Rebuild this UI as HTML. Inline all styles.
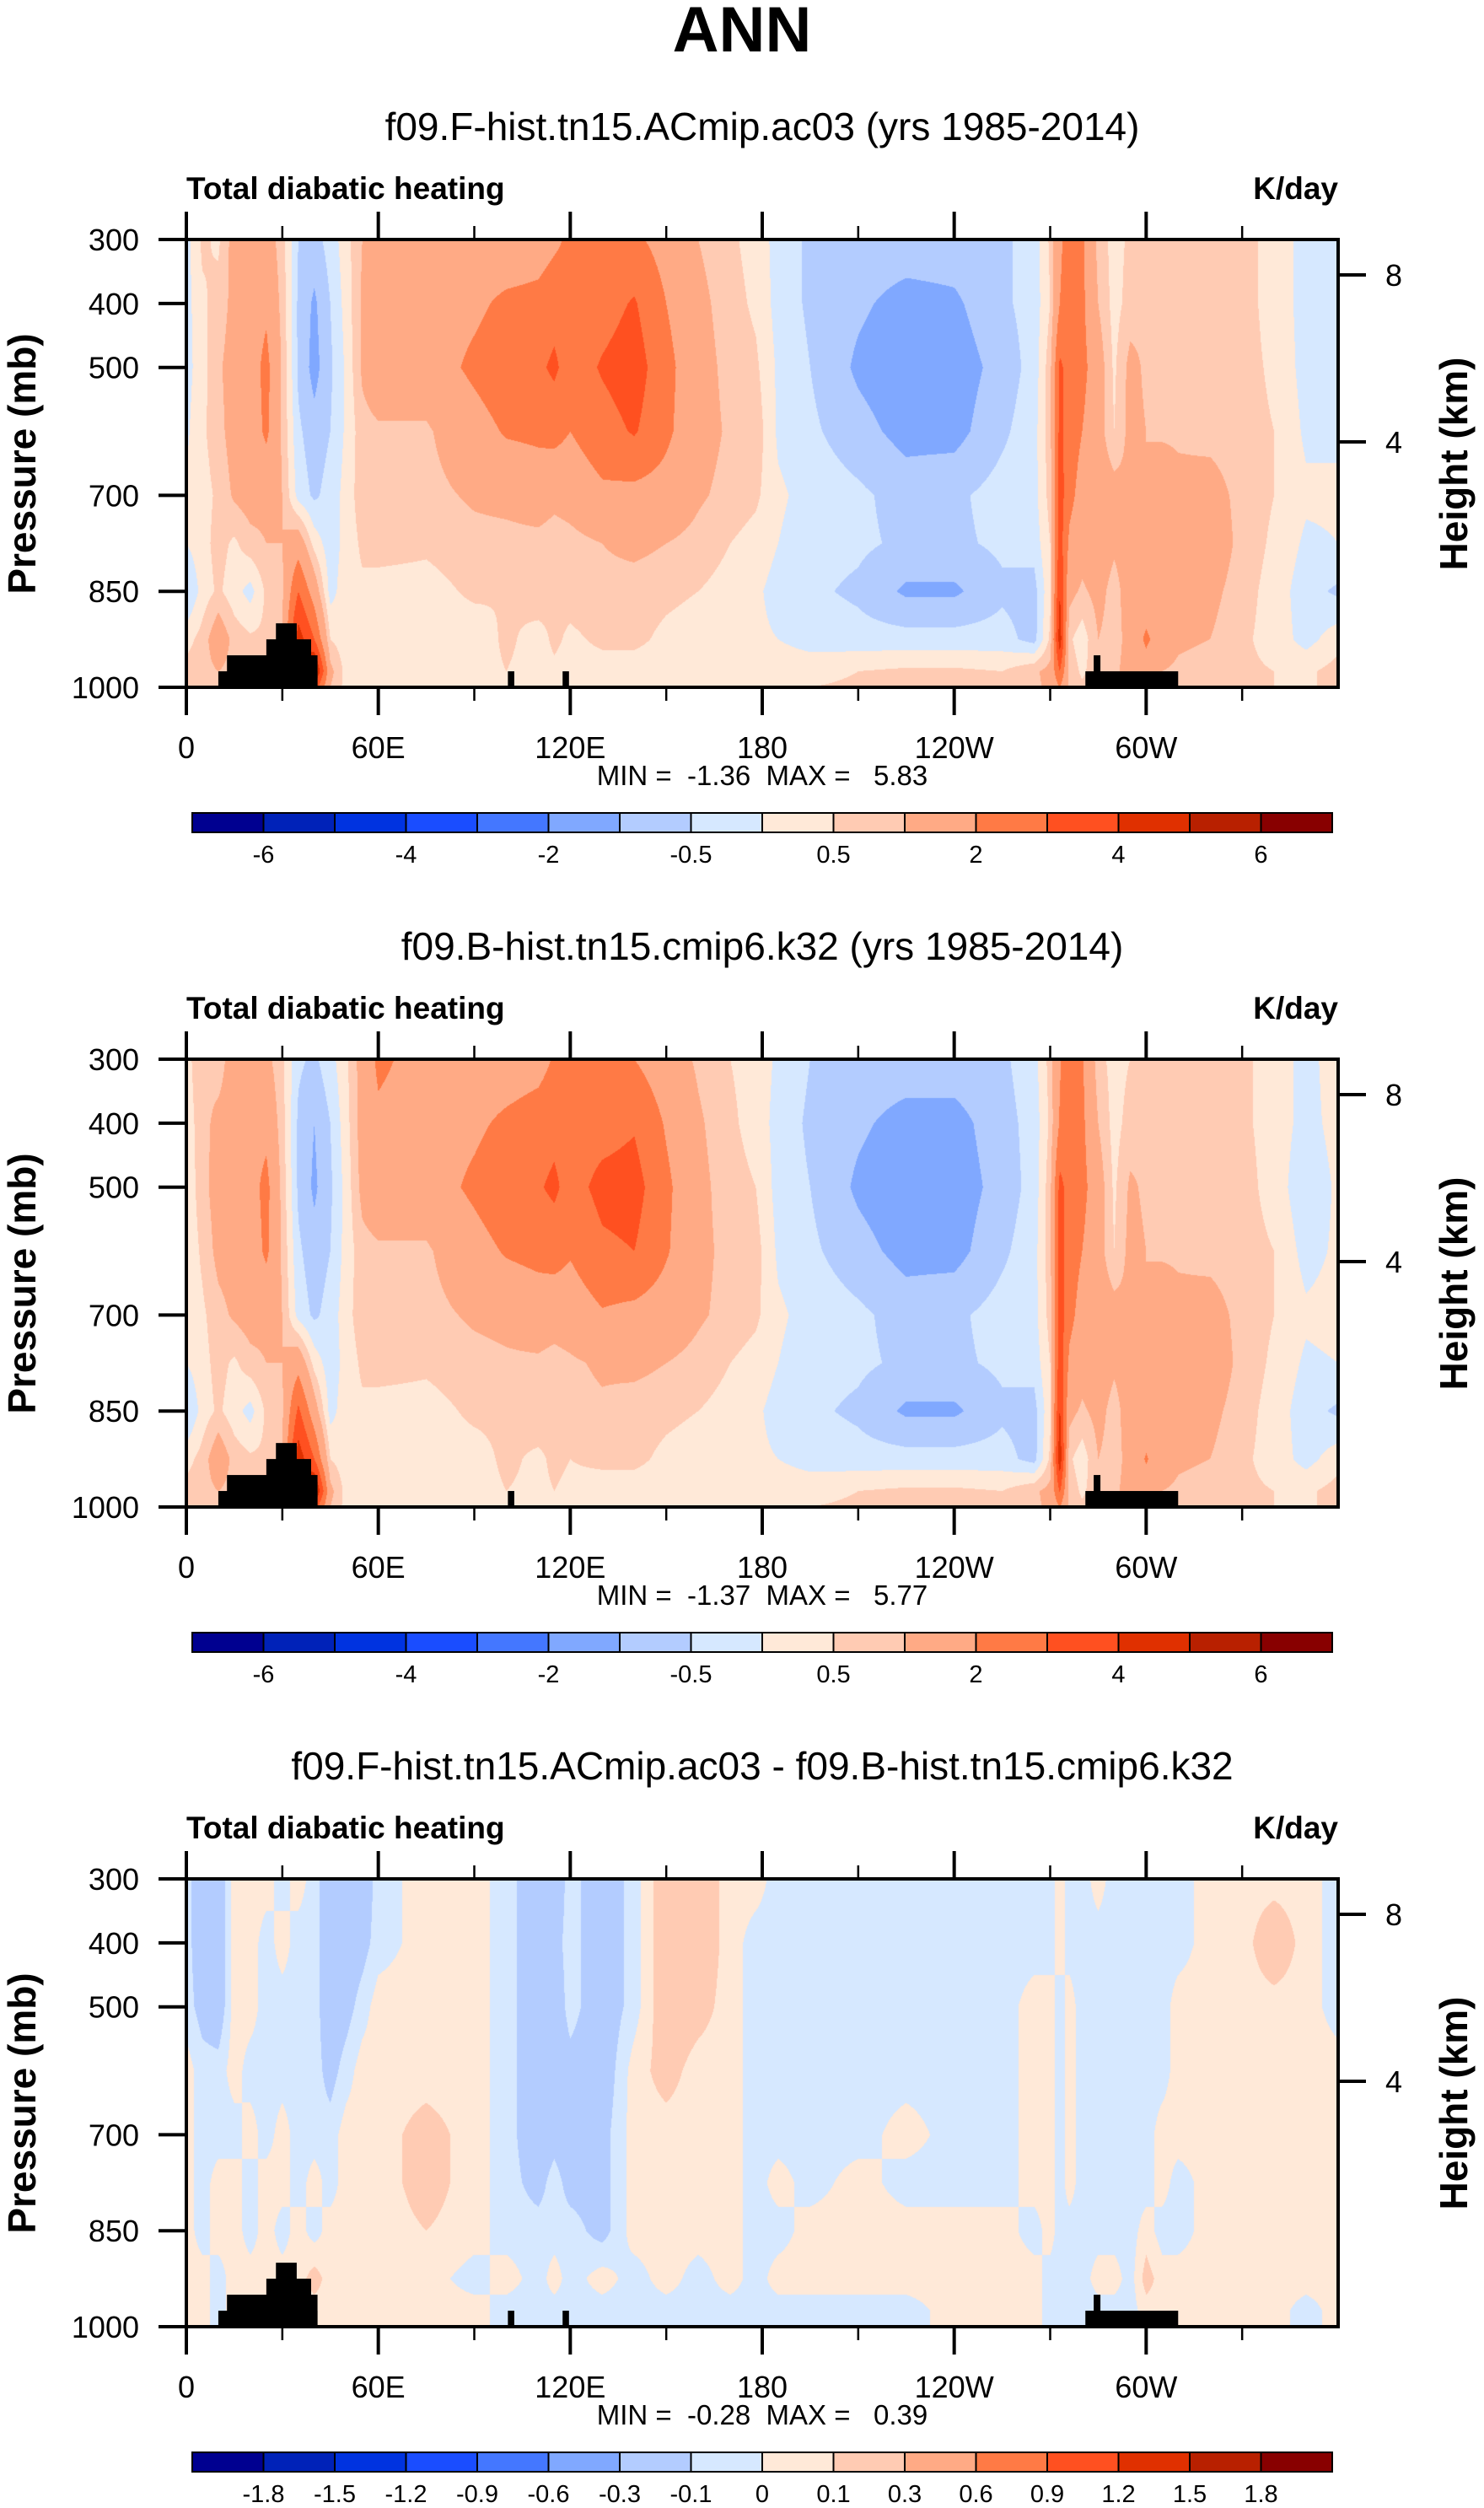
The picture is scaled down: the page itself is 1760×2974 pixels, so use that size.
<!DOCTYPE html>
<html><head><meta charset="utf-8"><title>ANN Total diabatic heating</title>
<style>
html,body{margin:0;padding:0;background:#fff;}
#page{position:relative;width:1760px;height:2974px;overflow:hidden;background:#fff;}
canvas{position:absolute;}
svg{position:absolute;left:0;top:0;}
text{font-family:"Liberation Sans",Arial,sans-serif;fill:#000;}
</style></head>
<body>
<div id="page">
<canvas id="c1" width="1366" height="531" style="left:221px;top:284px"></canvas>
<canvas id="c2" width="1366" height="531" style="left:221px;top:1256px"></canvas>
<canvas id="c3" width="1366" height="531" style="left:221px;top:2228px"></canvas>
<svg id="ov" width="1760" height="2974"></svg>
</div>
<script>
const LONS=[0,5,10,15,20,25,30,35,40,45,50,55,60,75,90,100,110,115,120,130,140,150,160,170,178,185,195,210,225,240,255,265,270,273,276,280,285,290,295,300,305,310,320,330,340,350,360];
const LEVS=[300,400,500,600,700,775,850,925,975,1000];
const heat1=[
[-0.2,0.6,0.4,1.3,1.5,1.4,0.7,-0.5,-0.7,-0.3,0.3,1.0,1.4,1.5,1.4,1.3,1.5,1.8,2.2,2.3,2.2,1.6,1.0,0.6,0.3,-0.2,-0.6,-0.7,-0.7,-0.7,-0.6,-0.3,0.6,1.8,2.5,2.2,0.8,0.3,0.6,0.8,0.9,0.8,0.7,0.7,0.3,-0.2,-0.2],
[-0.2,0.4,0.7,1.2,1.5,1.8,0.8,-0.6,-1.1,-0.5,0.2,1.1,1.5,1.5,1.8,2.2,2.3,2.6,2.4,2.6,3.1,2.0,1.2,0.7,0.4,-0.2,-0.6,-0.9,-1.2,-1.1,-0.6,-0.3,0.5,2.0,2.6,2.2,1.0,0.3,0.7,0.9,0.8,0.7,0.8,0.7,0.3,-0.2,-0.2],
[-0.2,0.3,0.9,1.3,1.5,2.3,0.9,-0.6,-1.2,-0.6,0.1,1.1,1.5,1.5,2.2,2.6,2.8,3.2,2.5,3.1,3.5,2.3,1.3,0.8,0.6,-0.1,-0.5,-1.1,-1.4,-1.3,-0.8,-0.3,0.8,3.2,2.6,2.3,1.4,0.4,1.2,0.9,0.9,0.8,0.8,0.7,0.4,-0.2,-0.2],
[-0.1,0.4,0.8,1.3,1.4,2.2,0.9,-0.4,-0.8,-0.5,0.1,0.8,0.9,0.9,1.6,2.1,2.2,2.3,2.0,2.6,3.1,2.2,1.3,0.9,0.8,-0.1,-0.4,-0.8,-1.2,-1.2,-0.6,-0.2,0.8,3.3,2.5,2.0,1.3,0.5,1.2,1.0,0.9,0.9,0.8,0.7,0.5,-0.1,-0.1],
[0.1,0.3,0.6,1.1,1.3,1.2,1.0,-0.2,-0.6,-0.3,0.2,0.8,0.8,0.8,1.1,1.2,1.4,1.2,1.3,1.8,1.7,1.6,1.1,0.8,0.6,0.1,-0.2,-0.4,-0.7,-0.6,-0.3,-0.2,0.7,3.5,2.3,1.6,1.5,1.3,1.1,1.0,1.5,1.2,1.3,0.8,0.5,0.1,0.1],
[0.0,0.3,0.7,0.4,0.8,1.0,1.0,1.5,0.3,-0.3,0.2,0.6,0.7,0.6,0.8,0.8,0.8,0.7,0.8,1.0,1.2,1.0,0.8,0.5,0.3,0.0,-0.3,-0.4,-0.6,-0.6,-0.4,-0.3,0.5,3.5,1.8,1.3,1.4,1.1,1.3,1.0,1.6,1.3,1.5,0.8,0.4,-0.1,0.0],
[-0.6,0.2,0.6,0.2,-0.2,0.6,0.9,3.0,1.5,-0.2,0.3,0.4,0.3,0.3,0.6,0.5,0.8,0.6,0.7,0.8,0.7,0.6,0.5,0.3,0.1,-0.2,-0.4,-0.6,-1.1,-1.1,-0.6,-0.7,0.4,4.0,1.2,0.9,1.2,0.8,1.3,1.3,1.2,1.0,1.2,0.7,0.3,-0.3,-0.6],
[0.3,0.7,1.5,0.8,0.6,0.6,1.0,4.5,3.0,0.5,0.2,0.2,0.2,0.3,0.2,0.6,0.3,0.6,0.4,0.6,0.6,0.4,0.3,0.2,0.1,0.0,-0.2,-0.3,-0.3,-0.3,-0.3,-0.7,0.6,4.6,0.6,0.2,1.0,0.8,1.2,2.2,1.4,1.1,1.0,0.6,0.3,-0.2,0.3],
[0.7,0.8,1.0,0.8,0.8,1.0,1.5,3.5,5.5,1.2,0.3,0.2,0.2,0.2,0.3,0.5,0.3,0.4,0.3,0.3,0.3,0.3,0.3,0.3,0.3,0.3,0.3,0.5,0.6,0.6,0.5,0.9,1.2,3.0,0.8,0.4,0.8,0.9,1.2,1.5,1.0,0.9,0.8,0.6,0.5,0.4,0.7],
[0.7,0.7,0.8,0.8,0.8,0.9,1.2,2.0,3.5,1.0,0.3,0.2,0.2,0.2,0.3,0.5,0.4,0.5,0.3,0.3,0.3,0.3,0.3,0.3,0.4,0.4,0.5,0.6,0.7,0.7,0.6,0.9,1.1,2.0,0.8,0.6,0.7,0.8,0.9,1.0,0.8,0.8,0.7,0.6,0.5,0.4,0.7]
];
const heat2=[
[0.3,0.9,0.7,1.4,1.5,1.2,0.6,-0.4,-0.6,-0.2,0.4,1.3,2.2,1.6,1.4,1.4,1.6,2.1,2.3,2.4,2.0,1.4,0.9,0.5,0.3,-0.1,-0.5,-0.7,-0.7,-0.7,-0.6,-0.2,0.7,1.9,2.6,2.1,0.7,0.3,0.5,0.8,0.9,0.8,0.7,0.6,0.3,-0.2,0.3],
[0.2,0.8,1.2,1.3,1.6,1.7,0.7,-0.6,-1.0,-0.5,0.3,1.3,1.8,1.5,1.8,2.2,2.5,2.7,2.5,2.6,2.9,1.9,1.1,0.6,0.3,-0.2,-0.6,-0.9,-1.2,-1.2,-0.7,-0.3,0.6,2.1,2.6,2.2,1.0,0.3,0.7,0.9,0.8,0.7,0.8,0.6,0.3,-0.2,0.2],
[0.1,0.8,1.3,1.4,1.6,2.3,0.8,-0.6,-1.1,-0.6,0.2,1.2,1.5,1.5,2.2,2.7,2.9,3.2,2.6,3.3,3.4,2.2,1.2,0.7,0.5,-0.2,-0.5,-1.1,-1.4,-1.3,-0.8,-0.3,0.8,3.3,2.6,2.3,1.4,0.4,1.1,0.9,0.9,0.8,0.8,0.7,0.3,-0.4,0.1],
[0.1,0.6,1.2,1.3,1.4,2.2,0.9,-0.4,-0.8,-0.5,0.2,0.8,0.9,0.9,1.6,2.1,2.3,2.4,2.1,2.8,3.0,2.1,1.2,0.8,0.7,-0.1,-0.4,-0.8,-1.2,-1.2,-0.6,-0.2,0.8,3.4,2.5,2.0,1.3,0.5,1.2,1.0,0.9,0.9,0.8,0.7,0.5,-0.2,0.1],
[0.2,0.4,0.8,1.1,1.3,1.2,1.0,-0.2,-0.6,-0.3,0.3,0.8,0.8,0.8,1.1,1.2,1.4,1.3,1.4,1.9,1.7,1.5,1.1,0.8,0.6,0.1,-0.2,-0.4,-0.7,-0.6,-0.3,-0.2,0.7,3.6,2.3,1.6,1.5,1.3,1.1,1.0,1.5,1.2,1.3,0.8,0.5,0.1,0.2],
[0.0,0.3,0.7,0.4,0.8,1.0,1.0,1.6,0.3,-0.3,0.2,0.6,0.7,0.6,0.8,0.9,0.9,0.8,0.9,1.1,1.2,1.0,0.8,0.5,0.3,0.0,-0.3,-0.4,-0.6,-0.6,-0.4,-0.3,0.5,3.6,1.8,1.3,1.4,1.1,1.3,1.0,1.6,1.3,1.5,0.8,0.4,-0.1,0.0],
[-0.6,0.2,0.6,0.2,-0.2,0.6,0.9,3.2,1.4,-0.2,0.3,0.4,0.3,0.3,0.6,0.6,0.8,0.7,0.8,0.9,0.7,0.6,0.5,0.3,0.1,-0.2,-0.4,-0.6,-1.1,-1.1,-0.6,-0.7,0.4,4.1,1.2,0.9,1.2,0.8,1.3,1.3,1.2,1.0,1.2,0.7,0.3,-0.3,-0.6],
[0.3,0.7,1.5,0.8,0.6,0.6,1.0,4.6,3.0,0.5,0.2,0.2,0.2,0.3,0.3,0.6,0.4,0.6,0.5,0.6,0.6,0.4,0.3,0.2,0.1,0.0,-0.2,-0.3,-0.3,-0.3,-0.3,-0.7,0.6,4.7,0.6,0.2,1.0,0.8,1.2,2.1,1.4,1.1,1.0,0.6,0.3,-0.2,0.3],
[0.7,0.8,1.0,0.8,0.8,1.0,1.5,3.6,5.4,1.2,0.3,0.2,0.2,0.2,0.3,0.5,0.4,0.5,0.4,0.3,0.3,0.3,0.3,0.3,0.3,0.3,0.3,0.5,0.6,0.6,0.5,0.9,1.2,3.1,0.8,0.4,0.8,0.9,1.2,1.5,1.0,0.9,0.8,0.6,0.5,0.4,0.7],
[0.7,0.7,0.8,0.8,0.8,0.9,1.2,2.0,3.5,1.0,0.3,0.2,0.2,0.2,0.3,0.5,0.5,0.5,0.4,0.3,0.3,0.3,0.3,0.3,0.4,0.4,0.5,0.6,0.7,0.7,0.6,0.9,1.1,2.0,0.8,0.6,0.7,0.8,0.9,1.0,0.8,0.8,0.7,0.6,0.5,0.4,0.7]
];
const diff3=[
[-0.05,-0.2,-0.2,0.05,0.05,0.05,-0.05,0.05,-0.05,-0.2,-0.2,-0.2,-0.05,0.05,0.05,-0.05,-0.2,-0.2,-0.05,-0.2,-0.05,0.2,0.2,0.05,0.05,-0.05,-0.05,-0.05,-0.05,-0.05,-0.05,-0.05,-0.05,0.05,-0.05,-0.05,0.05,-0.05,-0.05,-0.05,-0.05,-0.05,0.05,0.05,0.05,0.05,-0.05],
[-0.05,-0.2,-0.2,0.05,0.05,-0.05,0.05,-0.05,-0.05,-0.2,-0.2,-0.15,-0.05,0.05,0.05,-0.05,-0.2,-0.15,-0.05,-0.2,-0.05,0.2,0.2,0.05,-0.05,-0.05,-0.05,-0.05,-0.05,-0.05,-0.05,-0.05,-0.05,0.05,-0.05,-0.05,-0.05,-0.05,-0.05,-0.05,-0.05,-0.05,0.05,0.05,0.2,0.05,-0.05],
[-0.05,-0.15,-0.2,0.05,0.05,-0.05,-0.05,-0.05,-0.05,-0.2,-0.15,-0.05,0.05,0.05,0.05,-0.05,-0.2,-0.2,-0.05,-0.2,-0.05,0.2,0.15,0.05,-0.05,-0.05,-0.05,-0.05,-0.05,-0.05,-0.05,0.05,0.05,-0.05,0.05,-0.05,-0.05,-0.05,-0.05,-0.05,-0.05,0.05,0.05,0.05,0.05,0.05,-0.05],
[0.05,-0.05,-0.05,0.05,-0.05,-0.05,-0.05,-0.05,-0.05,-0.15,-0.05,0.05,0.05,0.05,0.05,-0.05,-0.2,-0.2,-0.15,-0.2,0.05,0.15,0.05,0.05,-0.05,-0.05,-0.05,-0.05,-0.05,-0.05,-0.05,0.05,0.05,-0.05,0.05,-0.05,-0.05,-0.05,-0.05,-0.05,-0.05,0.05,0.05,0.05,0.05,0.05,0.05],
[0.05,-0.05,-0.05,-0.05,0.05,-0.05,0.05,-0.05,-0.05,-0.05,0.05,0.05,0.05,0.15,0.05,-0.05,-0.2,-0.15,-0.2,-0.15,0.05,0.05,0.05,0.05,-0.05,-0.05,-0.05,-0.05,0.05,-0.05,-0.05,0.05,0.05,-0.05,0.05,-0.05,-0.05,-0.05,-0.05,-0.05,0.05,0.05,0.05,0.05,0.05,0.05,0.05],
[0.05,-0.05,0.05,0.05,-0.05,0.05,0.05,-0.05,0.05,-0.05,0.05,0.05,0.05,0.15,0.05,-0.05,-0.15,-0.05,-0.15,-0.15,0.05,0.05,0.05,0.05,-0.05,0.05,-0.05,0.05,-0.05,-0.05,-0.05,0.05,0.05,-0.05,0.05,-0.05,-0.05,-0.05,-0.05,-0.05,0.05,-0.05,0.05,0.05,0.05,0.05,0.05],
[0.05,-0.05,0.05,0.05,-0.05,0.05,-0.05,0.05,-0.05,0.05,0.05,0.05,0.05,0.1,0.05,-0.05,-0.05,-0.05,-0.05,-0.15,0.05,0.05,0.05,0.05,-0.05,-0.05,0.05,0.05,0.05,0.05,0.05,-0.05,0.05,-0.05,-0.05,-0.05,-0.05,-0.05,-0.05,0.05,-0.05,-0.05,0.05,0.05,0.05,0.05,0.05],
[0.05,0.05,-0.05,0.05,0.05,0.05,0.05,0.05,0.15,0.05,0.05,0.05,0.05,0.05,-0.05,0.05,-0.05,0.05,-0.05,0.05,-0.05,0.05,-0.05,0.05,-0.05,0.05,0.05,0.05,0.05,0.05,0.05,0.05,-0.05,-0.05,-0.05,-0.05,0.05,0.05,-0.05,0.15,0.05,0.05,0.05,0.05,0.05,0.05,0.05],
[0.05,0.05,-0.05,0.05,0.05,0.05,0.05,0.05,0.05,0.05,0.05,0.05,0.05,0.05,0.05,-0.05,-0.05,-0.05,-0.05,-0.05,-0.05,-0.05,-0.05,-0.05,-0.05,-0.05,-0.05,-0.05,-0.05,0.05,0.05,0.05,-0.05,-0.05,-0.05,-0.05,-0.05,-0.05,-0.05,0.05,0.05,0.05,0.05,0.05,0.05,-0.05,0.05],
[0.05,0.05,-0.05,0.05,0.05,0.05,0.05,0.05,0.05,0.05,0.05,0.05,0.05,0.05,0.05,-0.05,-0.05,-0.05,-0.05,-0.05,-0.05,-0.05,-0.05,-0.05,-0.05,-0.05,-0.05,-0.05,-0.05,0.05,0.05,0.05,-0.05,-0.05,-0.05,-0.05,-0.05,-0.05,-0.05,0.05,0.05,0.05,0.05,0.05,0.05,-0.05,0.05]
];
const contourLevelsFull=[-6,-5,-4,-3,-2,-1,-0.5,0,0.5,1,2,3,4,5,6];
const contourLevelsDiff=[-1.8,-1.5,-1.2,-0.9,-0.6,-0.3,-0.1,0,0.1,0.3,0.6,0.9,1.2,1.5,1.8];
const cbLabelsFull=["-6","-4","-2","-0.5","0.5","2","4","6"];
const cbLabelsDiff=["-1.8","-1.5","-1.2","-0.9","-0.6","-0.3","-0.1","0","0.1","0.3","0.6","0.9","1.2","1.5","1.8"];
const COLORS=["#000090","#0022b8","#0033e0","#1a4dff","#4477ff","#80a8ff","#b3ccff","#d6e8ff","#ffe9d8","#ffcbb3","#ffaa85","#ff7a45","#ff5020","#e03000","#b82000","#880000"];
// land blocks: [lonStart, lonEnd, topPressure]
const land1=[[10,41,975],[12.7,41,950],[25,39,925],[28,34.5,900],[100.5,102.5,975],[117.6,119.6,975],[281,310,975],[283.6,285.7,950]];
const land2=[[10,41,975],[12.7,41,950],[25,39,925],[28,34.5,900],[100.5,102.5,975],[281,310,975],[283.6,285.7,950]];
const land3=land1;
const xTickLabels=["0","60E","120E","180","120W","60W"];
const xTickLons=[0,60,120,180,240,300];
const yTickLabels=["300","400","500","700","850","1000"];
const yTickP=[300,400,500,700,850,1000];
const hTickLabels=["8","4"];
const hTickOffsets=[42,240];

const PL=221,PW=1366,PH=531,PTOP=[284,1256,2228];
function xOf(lon){return PL+lon/360*PW;}
function yOf(p,k){return PTOP[k]+(p-300)/700*PH;}

function rgb(h){return [parseInt(h.slice(1,3),16),parseInt(h.slice(3,5),16),parseInt(h.slice(5,7),16)];}
const RGB=COLORS.map(rgb);
function fill(id,grid,levels){
  const c=document.getElementById(id),ctx=c.getContext('2d');
  const img=ctx.createImageData(PW,PH),d=img.data;
  const ci=[],cf=[];
  for(let i=0;i<PW;i++){const lon=(i+0.5)/PW*360;let k=0;while(k<LONS.length-2&&LONS[k+1]<lon)k++;ci.push(k);cf.push((lon-LONS[k])/(LONS[k+1]-LONS[k]));}
  for(let j=0;j<PH;j++){
    const p=300+(j+0.5)/PH*700;let m=0;while(m<LEVS.length-2&&LEVS[m+1]<p)m++;
    const t=(p-LEVS[m])/(LEVS[m+1]-LEVS[m]);const r0=grid[m],r1=grid[m+1];
    for(let i=0;i<PW;i++){
      const k=ci[i],f=cf[i];
      const v=(r0[k]*(1-f)+r0[k+1]*f)*(1-t)+(r1[k]*(1-f)+r1[k+1]*f)*t;
      let n=0;while(n<levels.length&&v>=levels[n])n++;
      const col=RGB[n],o=(j*PW+i)*4;d[o]=col[0];d[o+1]=col[1];d[o+2]=col[2];d[o+3]=255;
    }
  }
  ctx.putImageData(img,0,0);
}
fill('c1',heat1,contourLevelsFull);
fill('c2',heat2,contourLevelsFull);
fill('c3',diff3,contourLevelsDiff);

const NS="http://www.w3.org/2000/svg",ov=document.getElementById('ov');
function el(tag,attrs,txt){const e=document.createElementNS(NS,tag);for(const a in attrs)e.setAttribute(a,attrs[a]);if(txt!==undefined)e.textContent=txt;ov.appendChild(e);return e;}

let t=el('text',{x:880,y:61,'font-size':76,'font-weight':'bold','text-anchor':'middle'},'ANN');



const subs=["f09.F-hist.tn15.ACmip.ac03 (yrs 1985-2014)","f09.B-hist.tn15.cmip6.k32 (yrs 1985-2014)","f09.F-hist.tn15.ACmip.ac03 - f09.B-hist.tn15.cmip6.k32"];
const minmax=["MIN =  -1.36  MAX =   5.83","MIN =  -1.37  MAX =   5.77","MIN =  -0.28  MAX =   0.39"];
const lands=[land1,land2,land3];

for(let k=0;k<3;k++){
  const off=PTOP[k]-284,top=PTOP[k],bot=top+PH;
  t=el('text',{x:904,y:166+off,'font-size':46,'text-anchor':'middle'},subs[k]);
  
  
  t=el('text',{x:221,y:236+off,'font-size':37,'font-weight':'bold'},'Total diabatic heating');
  
  
  t=el('text',{x:1587,y:236+off,'font-size':37,'font-weight':'bold','text-anchor':'end'},'K/day');
  
  
  // land
  lands[k].forEach(b=>{
    const r=el('rect',{x:xOf(b[0]),y:yOf(b[2],k),width:xOf(b[1])-xOf(b[0]),height:yOf(1000,k)-yOf(b[2],k),fill:'#000'});
    
    
  });
  // frame
  const fr=el('rect',{x:PL,y:top,width:PW,height:PH,fill:'none',stroke:'#000','stroke-width':4});
  
  
  // x ticks
  for(let lon=0;lon<360;lon+=30){
    const maj=lon%60===0,len=maj?33:16,x=xOf(lon);
    el('line',{x1:x,x2:x,y1:top,y2:top-len,stroke:'#000','stroke-width':maj?4:2.5});
    const tk=el('line',{x1:x,x2:x,y1:bot,y2:bot+len,stroke:'#000','stroke-width':maj?4:2.5});
    
    
  }
  xTickLons.forEach((lon,i)=>{
    const tl=el('text',{x:xOf(lon),y:899+off,'font-size':36,'text-anchor':'middle'},xTickLabels[i]);
    
    
  });
  yTickP.forEach((p,i)=>{
    const y=yOf(p,k);
    el('line',{x1:PL,x2:PL-33,y1:y,y2:y,stroke:'#000','stroke-width':4});
    const tl=el('text',{x:165,y:y+13,'font-size':36,'text-anchor':'end'},yTickLabels[i]);
    
    
  });
  hTickOffsets.forEach((o,i)=>{
    const y=top+o;
    el('line',{x1:PL+PW,x2:PL+PW+33,y1:y,y2:y,stroke:'#000','stroke-width':4});
    const tl=el('text',{x:1653,y:y+13,'font-size':36,'text-anchor':'middle'},hTickLabels[i]);
    
    
  });
  t=el('text',{x:0,y:0,'font-size':46,'font-weight':'bold','text-anchor':'middle',transform:`translate(42,${550+off}) rotate(-90)`},'Pressure (mb)');
  
  
  t=el('text',{x:0,y:0,'font-size':46,'font-weight':'bold','text-anchor':'middle',transform:`translate(1740,${550+off}) rotate(-90)`},'Height (km)');
  
  
  t=el('text',{x:904,y:931+off,'font-size':33,'text-anchor':'middle','xml:space':'preserve'},minmax[k]);
  t.style.whiteSpace='pre';
  
  
  // colorbar
  const cx0=228,cx1=1580,cy=964+off,ch=23,bw=(cx1-cx0)/16;
  for(let i=0;i<16;i++){
    const r=el('rect',{x:cx0+i*bw,y:cy,width:bw,height:ch,fill:COLORS[i],stroke:'#000','stroke-width':2});
    
    
  }
  const lbls=k<2?cbLabelsFull:cbLabelsDiff;
  lbls.forEach((s,i)=>{
    const b=k<2?(2*i+1):(i+1);
    const tl=el('text',{x:cx0+b*bw,y:1023+off,'font-size':29,'text-anchor':'middle'},s);
    
    
  });
}
</script>
</body></html>
